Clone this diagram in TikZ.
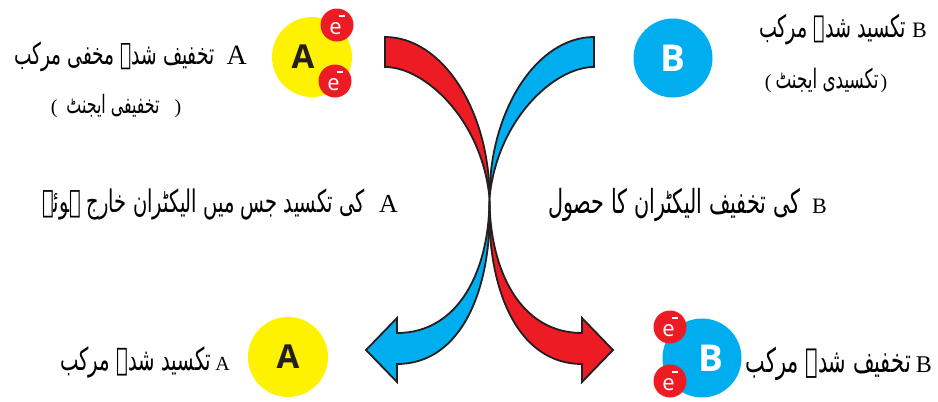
\documentclass[tikz,border=0pt]{standalone}
\usepackage{fontspec}
\usepackage{graphicx}
\TeXXeTstate=1
\newfontfamily\urdu[Script=Arabic]{DejaVu Sans}
\newfontfamily\romanlbl{Liberation Serif}
\newfontfamily\ballfont{Open Sans}

\definecolor{arrowred}{HTML}{ED1C24}
\definecolor{arrowblue}{HTML}{00AEEF}
\definecolor{atomyellow}{HTML}{FFF200}
\definecolor{inkblack}{HTML}{231F20}

% Urdu phrase fitted to a given width and set taller
\newcommand{\urdufit}[2]{\scalebox{1}[1.6]{\resizebox{#1}{!}{\urdu\fontsize{20}{24}\selectfont #2}}}
% Latin label letter in serif
\newcommand{\lbl}[2]{{\romanlbl\fontsize{#1}{#1}\selectfont #2}}
% electron symbol e with a minus sign
\newcommand{\elec}{e\kern-3pt\raisebox{18pt}{\rule{6pt}{1.5pt}}}

\tikzset{
  atomA/.style={circle, fill=atomyellow, minimum size=80pt, inner sep=0pt,
    text=inkblack, font=\ballfont\bfseries\fontsize{33}{33}\selectfont},
  atomB/.style={circle, fill=arrowblue, minimum size=79pt, inner sep=0pt,
    text=white, font=\ballfont\bfseries\fontsize{37}{37}\selectfont},
  electron/.style={circle, fill=arrowred, minimum size=33pt, inner sep=0pt,
    text=white, font=\ballfont\fontsize{22}{22}\selectfont},
  caption/.style={inner sep=0pt, text=black},
  bandred/.style={fill=arrowred, draw=inkblack, line width=1.8pt, line join=miter},
  bandblue/.style={fill=arrowblue, draw=inkblack, line width=1.8pt, line join=miter},
}

\begin{document}
\begin{tikzpicture}[x=1pt, y=-1pt]
\useasboundingbox (0,0) rectangle (938,402);

% crossing curved arrows
\draw[bandred] (385,37) .. controls (442,37) and (489.5,110) .. (489.5,198)
  .. controls (489.5,270) and (520,333) .. (582,333)
  -- (582,318) -- (613,350) -- (582,382) -- (582,364)
  .. controls (518,364) and (486,290) .. (489.5,198)
  .. controls (482,120) and (425,67) .. (385,67) -- cycle;
\draw[bandblue] (594,37) .. controls (537,37) and (489.5,110) .. (489.5,198)
  .. controls (489.5,270) and (459,333) .. (397,333)
  -- (397,318) -- (366,350) -- (397,382) -- (397,364)
  .. controls (461,364) and (493,290) .. (489.5,198)
  .. controls (497,120) and (554,67) .. (594,67) -- cycle;

% compounds before the reaction
\node[atomA] (topA) at (312,57) {\kern-18pt A};
\node[electron] (eA1) at (337,25) {\elec};
\node[electron] (eA2) at (335,81) {\elec};
\node[atomB] (topB) at (673,58) {B};

% compounds after the reaction
\node[atomA] (botA) at (288,357) {A};
\node[atomB] (botB) at (702,358) {\kern18pt B};
\node[electron] (eB1) at (670,327) {\elec};
\node[electron] (eB2) at (670,381) {\elec};

% captions
\node[caption, anchor=base east] (capTL) at (247,64)
  {\urdufit{200pt}{\beginR تخفیف شدہ مخفی مرکب\endR}\hspace{12pt}\lbl{28}{A}};
\node[caption] (capTL2) at (116,106)
  {\lbl{20}{(}\hspace{9pt}\urdufit{93pt}{\beginR تخفیفی ایجنٹ\endR}\hspace{15pt}\lbl{20}{)}};
\node[caption, anchor=base east] (capTR) at (927,37)
  {\urdufit{147pt}{\beginR تکسید شدہ مرکب\endR}\hspace{6pt}\lbl{22}{B}};
\node[caption] (capTR2) at (826,80)
  {\lbl{20}{(}\hspace{4pt}\urdufit{103pt}{\beginR تکسیدی ایجنٹ\endR}\hspace{2pt}\lbl{20}{)}};
\node[caption, anchor=base east] (capML) at (398,212)
  {\urdufit{323pt}{\beginR کی تکسید جس میں الیکٹران خارج ہوئے\endR}\hspace{14pt}\lbl{26}{A}};
\node[caption, anchor=base east] (capMR) at (827,213)
  {\urdufit{252pt}{\beginR کی تخفیف الیکٹران کا حصول\endR}\hspace{12pt}\lbl{22}{B}};
\node[caption, anchor=base east] (capBL) at (230,370)
  {\urdufit{151pt}{\beginR تکسید شدہ مرکب\endR}\hspace{4pt}\lbl{20}{A}};
\node[caption, anchor=base east] (capBR) at (932,372)
  {\urdufit{165pt}{\beginR تخفیف شدہ مرکب\endR}\hspace{5pt}\lbl{24}{B}};
\end{tikzpicture}
\end{document}
